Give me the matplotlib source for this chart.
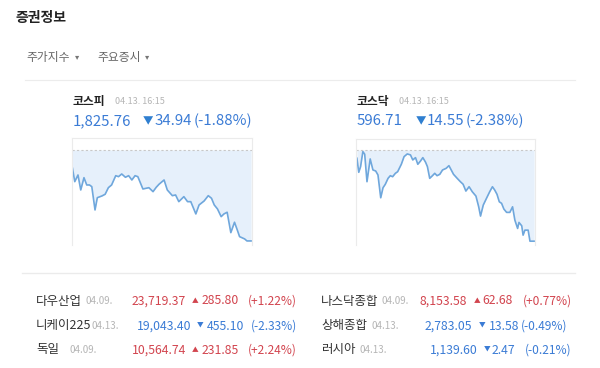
import matplotlib
matplotlib.use("Agg")
import matplotlib.pyplot as plt

plt.rcParams['font.family'] = ['Noto Sans CJK KR', 'DejaVu Sans']

# ---------------- data ----------------
kospi_t = [0, 5, 12, 18, 25, 31, 37, 42, 49, 54, 64, 71, 78, 85, 94, 100, 107, 115, 122, 129,
           136, 142, 153, 166, 175, 182, 188, 199, 206, 217, 224, 231, 242, 250, 257, 268, 275,
           286, 295, 302, 308, 315, 323, 329, 336, 344, 352, 358, 363, 374, 379, 388]
kospi_v = [1853.67, 1848.53, 1851.10, 1845.34, 1850.06, 1847.26, 1847.26, 1846.61, 1837.66,
           1842.38, 1843.04, 1843.69, 1846.22, 1847.26, 1850.83, 1850.45, 1851.48, 1850.22,
           1850.83, 1849.18, 1850.83, 1850.45, 1845.72, 1846.22, 1844.69, 1846.38, 1847.53,
           1849.18, 1845.34, 1843.15, 1843.42, 1840.85, 1842.77, 1840.85, 1840.85, 1836.13,
           1839.58, 1841.12, 1843.15, 1842.15, 1839.58, 1838.05, 1835.09, 1836.13, 1836.78,
           1828.95, 1832.94, 1829.98, 1827.41, 1826.53, 1825.76, 1825.76]
kospi_prev = 1860.70

kosdaq_t = [1, 5, 9, 14, 18, 23, 30, 36, 42, 47, 53, 58, 63, 69, 74, 79, 85, 90, 98, 104, 111,
            118, 123, 129, 134, 140, 145, 151, 155, 160, 166, 171, 176, 182, 188, 196, 202, 207,
            212, 220, 227, 233, 239, 246, 253, 261, 267, 271, 277, 284, 291, 297, 302, 307, 312,
            317, 322, 328, 335, 341, 346, 352, 355, 361, 364, 368, 375, 379, 388]
kosdaq_v = [609.93, 607.69, 608.59, 610.99, 610.57, 606.19, 609.82, 608.06, 607.90, 607.26,
            603.63, 605.23, 605.78, 606.73, 607.15, 606.99, 607.53, 607.79, 608.97, 610.19,
            610.62, 610.46, 609.66, 610.03, 608.97, 609.50, 610.03, 609.29, 608.59, 606.73,
            607.15, 607.53, 607.15, 607.37, 608.06, 608.33, 608.75, 608.06, 607.37, 606.73,
            606.19, 605.78, 604.70, 605.39, 604.59, 603.90, 602.19, 600.71, 602.47, 603.54,
            604.59, 605.39, 604.86, 604.18, 602.99, 602.74, 601.83, 601.30, 601.30, 602.19,
            600.07, 598.74, 599.70, 599.16, 597.67, 598.47, 598.47, 596.71, 596.71]
kosdaq_prev = 611.26

main_names = ["코스피", "코스닥"]
main_time = ["04.13. 16:15", "04.13. 16:15"]
main_value = ["1,825.76", "596.71"]
main_change = ["34.94", "14.55"]
main_pct = ["(-1.88%)", "(-2.38%)"]

world_names = ["다우산업", "니케이225", "독일", "나스닥종합", "상해종합", "러시아"]
world_dates = ["04.09.", "04.13.", "04.09.", "04.09.", "04.13.", "04.13."]
world_values = ["23,719.37", "19,043.40", "10,564.74", "8,153.58", "2,783.05", "1,139.60"]
world_changes = ["285.80", "455.10", "231.85", "62.68", "13.58", "2.47"]
world_pcts = ["(+1.22%)", "(-2.33%)", "(+2.24%)", "(+0.77%)", "(-0.49%)", "(-0.21%)"]
world_up = [True, False, True, True, False, False]

# ---------------- styling ----------------
W, H = 600, 368
BLUE = "#3a7bd5"
RED = "#d2444e"
DARK = "#222222"
LINE = "#6fa7dc"
FILL = "#e6f0fb"

fig = plt.figure(figsize=(6, 3.68), dpi=100)
fig.patch.set_facecolor("white")

def fx(x):
    return x / W

def fy(y):
    return 1 - y / H

def txt(x, y, s, size, color, ha="left", weight="normal", va="center"):
    fig.text(fx(x), fy(y), s, fontsize=size, color=color, ha=ha, va=va, weight=weight)

# header
txt(16, 18, "증권정보", 10, DARK, weight="bold")
txt(26, 57, "주가지수", 8.5, "#666666")
txt(75, 57, "▾", 6, "#777777")
txt(97, 57, "주요증시", 8.5, "#666666")
txt(145, 57, "▾", 6, "#777777")
fig.add_artist(plt.Line2D([fx(25), fx(575)], [fy(80), fy(80)], color="#ececec", lw=0.8))

# main charts
charts = [
    (72, 252, 138, kospi_t, kospi_v, kospi_prev, 1865.3, 1824.2),
    (356, 535, 139, kosdaq_t, kosdaq_v, kosdaq_prev, 613.0, 596.1),
]
label_x = [(73, 115, 73, 143, 155, 194), (357, 399, 357, 416, 427, 466)]
for i, (x0, x1, y0, t, v, prev, ytop, ybot) in enumerate(charts):
    ax = fig.add_axes([fx(x0), fy(245), fx(x1 - x0), (245 - y0) / H])
    ax.fill_between(t, v, prev, color=FILL, lw=0)
    ax.plot(t, v, color=LINE, lw=1.2)
    ax.axhline(prev, color="#c8c8c8", lw=0.8, ls=(0, (2, 2)))
    ax.set_xlim(-1, 390)
    ax.set_ylim(ybot, ytop)
    ax.set_xticks([])
    ax.set_yticks([])
    for side in ("top", "left", "right"):
        ax.spines[side].set_color("#ebebeb")
        ax.spines[side].set_linewidth(0.8)
    ax.spines["bottom"].set_visible(False)

    nx, dx, vx, tx, cx, px = label_x[i]
    txt(nx, 101, main_names[i], 8.5, DARK, weight="bold")
    txt(dx, 101, main_time[i], 6.5, "#b5b5b5")
    txt(vx, 121, main_value[i], 10.8, BLUE)
    txt(tx, 121, "▼", 7.5, "#2f7fd0")
    txt(cx, 121, main_change[i], 10.8, BLUE)
    txt(px, 121, main_pct[i], 10.8, BLUE)

fig.add_artist(plt.Line2D([fx(22), fx(575)], [fy(273), fy(273)], color="#ebebeb", lw=1.0))

# world indices table
rows_y = [301, 326, 350]
date_x = [85, 92, 69, 382, 371, 359]
val_end = [186, 191, 186, 467, 472, 478]
tri_x = [192, 197, 192, 474, 479, 484]
num_x = [202, 207, 202, 482, 489, 492]
pct_end = [297, 297, 297, 572, 567, 572]
for k in range(6):
    col = k // 3
    r = k % 3
    y = rows_y[r]
    nx = 36 if col == 0 else 321
    c = RED if world_up[k] else BLUE
    txt(nx, y, world_names[k], 9, "#333333")
    txt(date_x[k], y, world_dates[k], 7, "#b5b5b5")
    txt(val_end[k], y, world_values[k], 8.8, c, ha="right")
    txt(tri_x[k], y, "▲" if world_up[k] else "▼", 4.8, c)
    txt(num_x[k], y, world_changes[k], 8.8, c)
    txt(pct_end[k], y, world_pcts[k], 8.6, c, ha="right")

fig.savefig("out.png", dpi=100, facecolor="white")
